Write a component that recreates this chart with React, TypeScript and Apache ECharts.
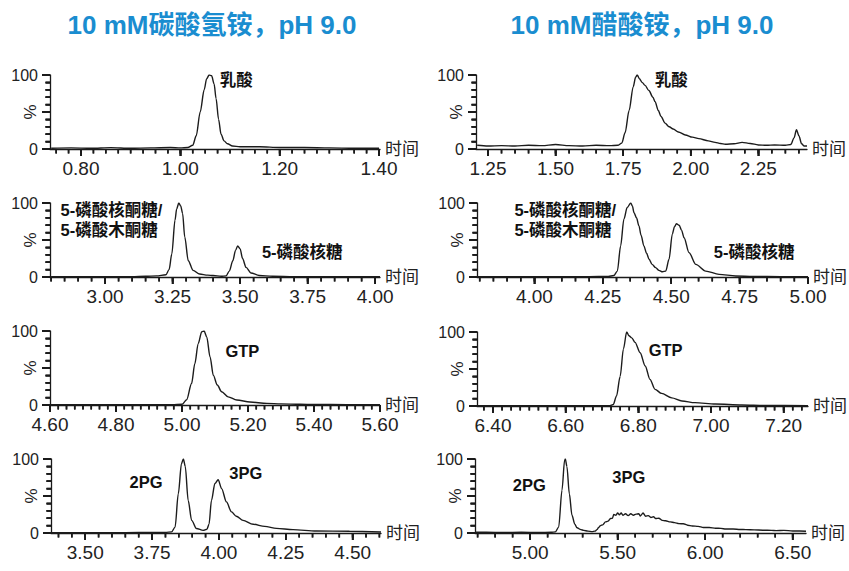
import React, { useEffect, useRef } from 'react';
import * as echarts from 'echarts';

// ---------- texts ----------
const titles = ['10 mM碳酸氢铵，pH 9.0', '10 mM醋酸铵，pH 9.0'];
const timeName = '时间';
const percentName = '%';

// ---------- tick labels (major) ----------
const ticksP1 = [0.8, 1.0, 1.2, 1.4];
const ticksP2 = [1.25, 1.5, 1.75, 2.0, 2.25];
const ticksP3 = [3.0, 3.25, 3.5, 3.75, 4.0];
const ticksP4 = [4.0, 4.25, 4.5, 4.75, 5.0];
const ticksP5 = [4.6, 4.8, 5.0, 5.2, 5.4, 5.6];
const ticksP6 = [6.4, 6.6, 6.8, 7.0, 7.2];
const ticksP7 = [3.5, 3.75, 4.0, 4.25, 4.5];
const ticksP8 = [5.0, 5.5, 6.0, 6.5];
const yMajorTicks = [0, 50, 100];
const yMinorTicks = [10, 20, 30, 40, 60, 70, 80, 90];

// ---------- series values [time, %] ----------
const p1Lactate = [
  [0.74, 1], [0.78, 1.5], [0.82, 1], [0.86, 1.8], [0.9, 1], [0.94, 1.5], [0.98, 2], [1.0, 1.5],
  [1.015, 2], [1.025, 5], [1.032, 18], [1.04, 50], [1.048, 80], [1.053, 95], [1.058, 100],
  [1.063, 99], [1.068, 88], [1.072, 68], [1.077, 40], [1.082, 20], [1.088, 11], [1.095, 7],
  [1.105, 4], [1.12, 3], [1.16, 3], [1.2, 2], [1.25, 2], [1.3, 1.5], [1.35, 1], [1.4, 1],
];
const p2Lactate = [
  [1.21, 5], [1.25, 4], [1.3, 4.5], [1.35, 4], [1.4, 5], [1.45, 4.5], [1.5, 6], [1.55, 4.5],
  [1.6, 4], [1.65, 5], [1.7, 4.5], [1.73, 5], [1.745, 8], [1.757, 22], [1.772, 52], [1.787, 84],
  [1.796, 97], [1.802, 100], [1.81, 95], [1.82, 90], [1.831, 86], [1.845, 79], [1.86, 70],
  [1.868, 64], [1.88, 52], [1.89, 44], [1.905, 35], [1.92, 30], [1.935, 27], [1.954, 23],
  [1.98, 19], [2.006, 16], [2.03, 14], [2.065, 11], [2.09, 9], [2.11, 7.5], [2.128, 6.5],
  [2.16, 7], [2.19, 9], [2.22, 7.5], [2.25, 5.5], [2.28, 5], [2.31, 5.5], [2.35, 5], [2.37, 6],
  [2.382, 15], [2.391, 26], [2.4, 18], [2.41, 7], [2.42, 4], [2.43, 4],
];
const p3Pentose = [
  [2.8, 0.5], [2.9, 0.5], [3.0, 0.5], [3.1, 0.5], [3.15, 1], [3.19, 1.5], [3.225, 3], [3.237, 10],
  [3.247, 31], [3.259, 77], [3.265, 92], [3.273, 100], [3.28, 96], [3.287, 86], [3.295, 54],
  [3.308, 22], [3.326, 9], [3.35, 4], [3.38, 2.5], [3.4, 2], [3.43, 1], [3.448, 1.5], [3.46, 8],
  [3.473, 22], [3.483, 36], [3.491, 42], [3.5, 38], [3.509, 25], [3.522, 13], [3.54, 5.5],
  [3.571, 2], [3.62, 1], [3.7, 0.5], [3.8, 0.5], [3.9, 0.3], [4.018, 0.3],
];
const p4Pentose = [
  [3.79, 0.5], [3.9, 0.5], [4.0, 0.5], [4.1, 0.5], [4.2, 0.5], [4.27, 0.8], [4.29, 2], [4.303, 8],
  [4.315, 42], [4.327, 78], [4.339, 94], [4.352, 100], [4.358, 96], [4.364, 87], [4.373, 80],
  [4.382, 69], [4.39, 56], [4.4, 42], [4.41, 32], [4.419, 24], [4.43, 17], [4.443, 12.7],
  [4.455, 9], [4.468, 7], [4.48, 8], [4.492, 24], [4.504, 58], [4.512, 68], [4.519, 72],
  [4.529, 70], [4.538, 63], [4.547, 53], [4.565, 33], [4.59, 17], [4.626, 8], [4.675, 3.6],
  [4.736, 1.4], [4.8, 0.8], [4.9, 0.5], [5.0, 0.5],
];
const p5Gtp = [
  [4.6, 0.3], [4.7, 0.5], [4.8, 0.3], [4.9, 0.3], [4.97, 0.3], [5.0, 1], [5.014, 7], [5.029, 29],
  [5.039, 56], [5.049, 83], [5.06, 99], [5.067, 100], [5.075, 92], [5.085, 65], [5.095, 40],
  [5.107, 27], [5.12, 18], [5.14, 11], [5.166, 6.7], [5.206, 4], [5.257, 2.2], [5.3, 1.5],
  [5.358, 1], [5.4, 0.8], [5.5, 0.5], [5.6, 0.5],
];
const p6Gtp = [
  [6.356, 0.3], [6.4, 0.3], [6.5, 0.3], [6.6, 0.3], [6.7, 0.3], [6.722, 0.5], [6.731, 2],
  [6.74, 13.5], [6.75, 40], [6.759, 77], [6.768, 100], [6.774, 95], [6.782, 92], [6.791, 86],
  [6.805, 72], [6.819, 54], [6.832, 36], [6.846, 22.5], [6.864, 17], [6.892, 11], [6.92, 6.8],
  [6.956, 4.5], [7.012, 2.7], [7.085, 1.4], [7.15, 0.8], [7.267, 0.5],
];
const p7Pg = [
  [3.372, 0.5], [3.45, 0.5], [3.55, 0.5], [3.65, 0.5], [3.75, 0.8], [3.8, 0.8], [3.823, 1.5],
  [3.836, 8], [3.848, 53], [3.86, 94], [3.867, 100], [3.874, 90], [3.885, 44], [3.898, 17],
  [3.916, 6], [3.941, 3.6], [3.955, 5], [3.963, 12], [3.972, 44], [3.985, 67], [3.997, 72],
  [4.01, 60], [4.028, 42], [4.047, 28.5], [4.065, 22.6], [4.09, 17], [4.128, 11.8], [4.171, 9],
  [4.215, 6.3], [4.277, 4.5], [4.364, 2.7], [4.488, 2.3], [4.606, 1.4],
];
const p8Pg = [
  [4.685, 1], [4.75, 1], [4.85, 0.8], [4.95, 1], [5.05, 0.8], [5.12, 1], [5.144, 1.5], [5.163, 8],
  [5.182, 58], [5.197, 98.6], [5.201, 100], [5.21, 90], [5.224, 53], [5.239, 24], [5.255, 12],
  [5.268, 7], [5.29, 4.5], [5.306, 3.6], [5.33, 2.5], [5.354, 1.8], [5.37, 2.5], [5.382, 4.5],
  [5.39, 7], [5.402, 10], [5.415, 11], [5.43, 15], [5.445, 16], [5.459, 19.5], [5.47, 20],
  [5.478, 25], [5.49, 24], [5.5, 27], [5.51, 24.5], [5.52, 27], [5.53, 24], [5.545, 26],
  [5.56, 23.5], [5.575, 26], [5.59, 24], [5.605, 25.5], [5.621, 26], [5.63, 23], [5.645, 27],
  [5.66, 22.6], [5.675, 23.5], [5.69, 21], [5.705, 22], [5.717, 19.5], [5.735, 20], [5.755, 17],
  [5.774, 16.5], [5.8, 15], [5.825, 14], [5.85, 12.7], [5.875, 12.5], [5.9, 10.5], [5.927, 9.5],
  [5.96, 9], [5.99, 7.5], [6.023, 7.5], [6.06, 6.5], [6.09, 6.2], [6.118, 5.4], [6.16, 5.5],
  [6.2, 4.8], [6.233, 4.5], [6.28, 4.2], [6.33, 3.8], [6.38, 3.5], [6.405, 3.2], [6.45, 3.5],
  [6.5, 2.8], [6.54, 2.8], [6.576, 2.3],
];

// ---------- peak annotations [time, %, text] (left edge of the text) ----------
const notesP1: [number, number, string][] = [[1.0785, 93, '乳酸']];
const notesP2: [number, number, string][] = [[1.865, 93, '乳酸']];
const notesP3: [number, number, string][] = [
  [2.833, 77.4, '5-磷酸核酮糖/\n5-磷酸木酮糖'],
  [3.579, 34.2, '5-磷酸核糖'],
];
const notesP4: [number, number, string][] = [
  [3.925, 77, '5-磷酸核酮糖/\n5-磷酸木酮糖'],
  [4.654, 34.2, '5-磷酸核糖'],
];
const notesP5: [number, number, string][] = [[5.13, 73, 'GTP']];
const notesP6: [number, number, string][] = [[6.827, 75.7, 'GTP']];
const notesP7: [number, number, string][] = [
  [3.664, 69.3, '2PG'],
  [4.037, 80.7, '3PG'],
];
const notesP8: [number, number, string][] = [
  [4.898, 64.9, '2PG'],
  [5.466, 76, '3PG'],
];

// ---------- layout ----------
const panels = [
  { data: p1Lactate, min: 0.7376, max: 1.402, ticks: ticksP1, minor: 0.025, notes: notesP1, grid: { left: 50, top: 75, width: 330, height: 74 } },
  { data: p2Lactate, min: 1.2056, max: 2.43, ticks: ticksP2, minor: 0.05, notes: notesP2, grid: { left: 476, top: 75, width: 331, height: 74 } },
  { data: p3Pentose, min: 2.796, max: 4.018, ticks: ticksP3, minor: 0.05, notes: notesP3, grid: { left: 50, top: 203, width: 330, height: 74 } },
  { data: p4Pentose, min: 3.79, max: 5.0, ticks: ticksP4, minor: 0.05, notes: notesP4, grid: { left: 477, top: 203, width: 331, height: 74 } },
  { data: p5Gtp, min: 4.6, max: 5.6, ticks: ticksP5, minor: 0.025, notes: notesP5, grid: { left: 50, top: 331, width: 330, height: 74 } },
  { data: p6Gtp, min: 6.356, max: 7.267, ticks: ticksP6, minor: 0.025, notes: notesP6, grid: { left: 477, top: 332, width: 331, height: 74 } },
  { data: p7Pg, min: 3.372, max: 4.606, ticks: ticksP7, minor: 0.05, notes: notesP7, grid: { left: 51, top: 459, width: 330, height: 74 } },
  { data: p8Pg, min: 4.685, max: 6.576, ticks: ticksP8, minor: 0.1, notes: notesP8, grid: { left: 475, top: 459, width: 331, height: 74 } },
];

const LATIN = "'Liberation Sans', Arial, 'Noto Sans CJK SC', sans-serif";
const AXIS_COLOR = '#1a1a1a';
const TEXT_COLOR = '#222';

function minorValues(min: number, max: number, step: number): number[] {
  const out: number[] = [];
  const start = Math.ceil(min / step - 1e-9);
  for (let k = start; k * step <= max + 1e-9; k++) {
    out.push(Math.round(k * step * 10000) / 10000);
  }
  return out;
}

// kind: 1 = x major, 2 = x minor, 3 = y major, 4 = y minor
function tickData(p: any): number[][] {
  const d: number[][] = [];
  p.ticks.forEach((v: number) => d.push([1, v]));
  minorValues(p.min, p.max, p.minor).forEach((v) => d.push([2, v]));
  yMajorTicks.forEach((v) => d.push([3, v]));
  yMinorTicks.forEach((v) => d.push([4, v]));
  return d;
}

const titleStyle = { fill: '#1a8dd0', fontSize: 26, fontWeight: 'bold', fontFamily: LATIN, align: 'center', verticalAlign: 'middle' };
const titleGraphics = [
  { id: 'title0', type: 'text', x: 212, y: 25, style: { ...titleStyle, text: titles[0] } },
  { id: 'title1', type: 'text', x: 642, y: 25, style: { ...titleStyle, text: titles[1] } },
];

function buildOption() {
  const grid: any[] = [];
  const xAxis: any[] = [];
  const yAxis: any[] = [];
  const series: any[] = [];

  panels.forEach((p, i) => {
    grid.push({ ...p.grid });
    xAxis.push({
      type: 'value',
      gridIndex: i,
      min: p.min,
      max: p.max,
      name: timeName,
      nameLocation: 'end',
      nameGap: 5,
      nameMoveOverlap: false,
      nameTextStyle: { fontSize: 17, color: TEXT_COLOR, fontFamily: LATIN, verticalAlign: 'middle', padding: [0, 0, 3, 0] },
      axisLine: { show: true, onZero: false, lineStyle: { color: AXIS_COLOR, width: 1.3 } },
      axisTick: { show: true, customValues: p.ticks, length: 7, lineStyle: { color: AXIS_COLOR, width: 1.5 } },
      axisLabel: {
        show: true,
        customValues: p.ticks,
        formatter: (v: number) => v.toFixed(2),
        fontSize: 19,
        color: TEXT_COLOR,
        fontFamily: LATIN,
        margin: 10,
      },
      splitLine: { show: false },
    });
    yAxis.push({
      type: 'value',
      gridIndex: i,
      min: 0,
      max: 100,
      interval: 50,
      name: percentName,
      nameLocation: 'middle',
      nameRotate: 90,
      nameGap: 11,
      nameMoveOverlap: false,
      nameTextStyle: { fontSize: 17, color: TEXT_COLOR, fontFamily: LATIN },
      axisLine: { show: true, onZero: false, lineStyle: { color: AXIS_COLOR, width: 1.3 } },
      axisTick: { show: true, length: 8, lineStyle: { color: AXIS_COLOR, width: 1.5 } },
      minorTick: { show: true, splitNumber: 5, length: 4.5, lineStyle: { color: AXIS_COLOR, width: 1.5 } },
      axisLabel: {
        formatter: (v: number) => (v === 50 ? '' : String(v)),
        fontSize: 16,
        color: TEXT_COLOR,
        fontFamily: LATIN,
        margin: 12,
      },
      splitLine: { show: false },
      minorSplitLine: { show: false },
    });
    // tick marks, drawn through the axes' own scales
    const xMin = p.min;
    series.push({
      type: 'custom',
      xAxisIndex: i,
      yAxisIndex: i,
      clip: false,
      data: tickData(p),
      renderItem: (_params: any, api: any) => {
        const kind = api.value(0);
        const v = api.value(1);
        const style = { stroke: AXIS_COLOR, lineWidth: 1.6 };
        if (kind <= 2) {
          const pt = api.coord([v, 0]);
          const len = kind === 1 ? 7 : 4.5;
          return { type: 'line', shape: { x1: pt[0], y1: pt[1], x2: pt[0], y2: pt[1] + len }, style };
        }
        const pt = api.coord([xMin, v]);
        const len = kind === 3 ? 8 : 4.5;
        return { type: 'line', shape: { x1: pt[0] - len, y1: pt[1], x2: pt[0], y2: pt[1] }, style };
      },
    });
    series.push({
      type: 'line',
      xAxisIndex: i,
      yAxisIndex: i,
      data: p.data,
      showSymbol: false,
      smooth: 0.3,
      smoothMonotone: 'x',
      lineStyle: { color: '#1c1c1c', width: 1.4 },
      markPoint: {
        symbol: 'circle',
        symbolSize: 1,
        itemStyle: { color: 'rgba(0,0,0,0)' },
        data: p.notes.map(([x, y, t]) => ({
          coord: [x, y],
          label: {
            show: true,
            position: 'right',
            distance: 0,
            formatter: t,
            align: 'left',
            fontSize: 16.5,
            lineHeight: 20,
            fontWeight: 'bold',
            color: '#111',
            fontFamily: LATIN,
          },
        })),
      },
    });
  });

  return {
    animation: false,
    grid,
    xAxis,
    yAxis,
    series,
    graphic: titleGraphics,
  };
}

// tick marks placed through chart.convertToPixel (the axes' own scales)
function tickGraphics(chart: any): any[] {
  const els: any[] = [];
  const style = { stroke: AXIS_COLOR, lineWidth: 1.6 };
  panels.forEach((p, i) => {
    const finder = { gridIndex: i };
    const addX = (v: number, len: number, k: string) => {
      const pt = chart.convertToPixel(finder, [v, 0]);
      if (!pt || isNaN(pt[0])) return;
      els.push({ id: `tx-${i}-${k}-${v}`, type: 'line', z: 100, shape: { x1: pt[0], y1: pt[1], x2: pt[0], y2: pt[1] + len }, style });
    };
    const addY = (v: number, len: number, k: string) => {
      const pt = chart.convertToPixel(finder, [p.min, v]);
      if (!pt || isNaN(pt[0])) return;
      els.push({ id: `ty-${i}-${k}-${v}`, type: 'line', z: 100, shape: { x1: pt[0] - len, y1: pt[1], x2: pt[0], y2: pt[1] }, style });
    };
    p.ticks.forEach((v) => addX(v, 7, 'M'));
    minorValues(p.min, p.max, p.minor).forEach((v) => addX(v, 4.5, 'm'));
    yMajorTicks.forEach((v) => addY(v, 8, 'M'));
    yMinorTicks.forEach((v) => addY(v, 4.5, 'm'));
  });
  return els;
}

export default function App() {
  const ref = useRef<HTMLDivElement>(null);
  useEffect(() => {
    document.body.style.margin = '0';
    if (!ref.current) return;
    const chart = echarts.init(ref.current, undefined, { renderer: 'svg' });
    chart.setOption(buildOption() as any);
    try {
      const extra = tickGraphics(chart);
      chart.setOption({ graphic: [...titleGraphics, ...extra] } as any);
    } catch (e) {
      // keep the chart as it is if the extra tick marks cannot be placed
    }
    return () => {
      chart.dispose();
    };
  }, []);
  return <div ref={ref} style={{ width: 849, height: 571, background: '#fff' }} />;
}
